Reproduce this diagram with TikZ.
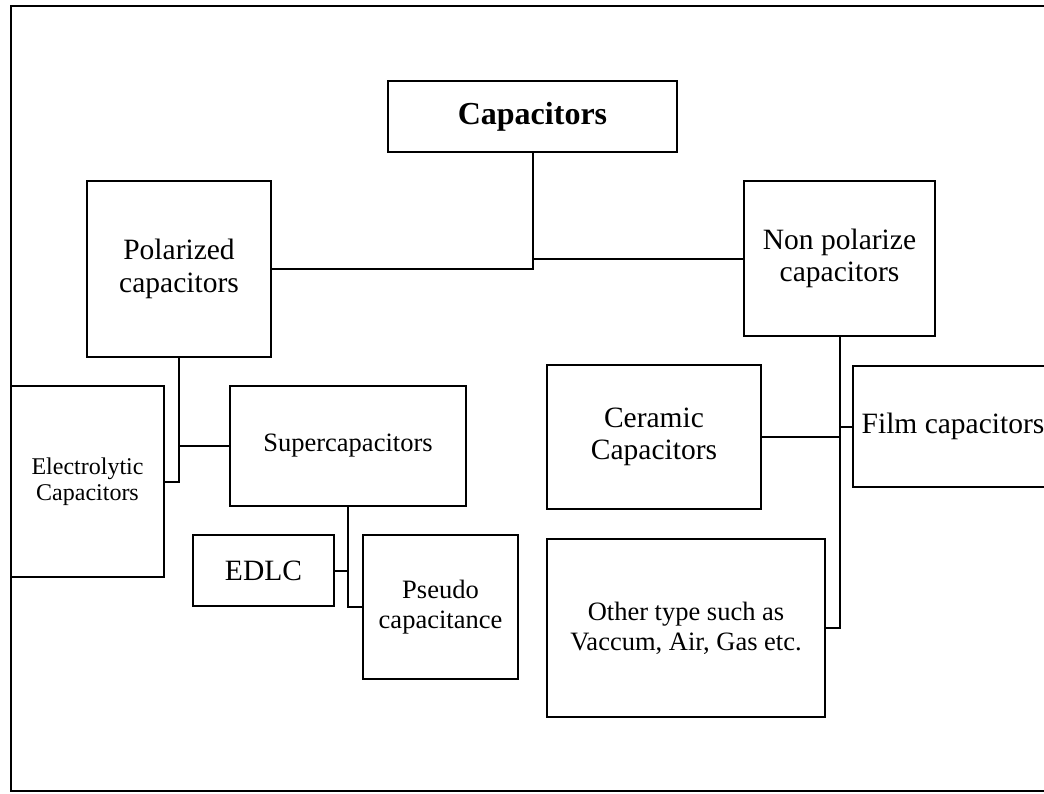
\documentclass[tikz,border=0pt]{standalone}
\usepackage{fontspec}
\setmainfont{Liberation Serif}
\begin{document}
\begin{tikzpicture}[x=1pt,y=-1pt,
  box/.style={draw,line width=2pt,inner sep=0pt,align=center,outer sep=0pt},
  big/.style={font=\fontsize{29.5}{32.5}\selectfont},
  mid/.style={font=\fontsize{26.5}{30}\selectfont},
  small/.style={font=\fontsize{24}{26}\selectfont},
  link/.style={line width=2pt}]
\useasboundingbox (0,0) rectangle (1044,793);
\clip (0,0) rectangle (1044,793);
\draw[line width=2pt] (1060,5.5) -- (11,5.5) -- (11,791) -- (1060,791);
\node[box,font=\bfseries\fontsize{32}{35}\selectfont,minimum width=289,minimum height=71] (cap) at (532.5,116.5) {Capacitors};
\node[box,big,minimum width=184,minimum height=176] (pol) at (179,269) {Polarized\\capacitors};
\node[box,big,minimum width=191,minimum height=155] (np) at (839.5,258.5) {Non polarize\\capacitors};
\node[box,small,minimum width=153,minimum height=191] (elec) at (87.5,481.5) {Electrolytic\\Capacitors};
\node[box,mid,minimum width=236,minimum height=120] (sup) at (348,446) {Supercapacitors};
\node[box,big,minimum width=141,minimum height=71] (edlc) at (263.5,570.5) {EDLC};
\node[box,mid,minimum width=155,minimum height=144] (pse) at (440.5,607) {Pseudo\\capacitance};
\node[box,big,minimum width=214,minimum height=144] (cer) at (654,437) {Ceramic\\Capacitors};
\node[box,big,minimum width=200,minimum height=121] (film) at (953,426.5) {Film capacitors};
\node[box,mid,minimum width=278,minimum height=178] (oth) at (686,628) {Other type such as\\Vaccum, Air, Gas etc.};
\draw[link] (cap.south) |- (pol.east);
\draw[link] (cap.south) |- (np.west);
\draw[link] (pol.south) |- (elec.east);
\draw[link] (pol.south) |- (sup.west);
\draw[link] (sup.south) |- (pse.west);
\draw[link] (edlc.east) -| (sup.south);
\draw[link] (np.south) |- (oth.east);
\draw[link] (cer.east) -| (np.south);
\draw[link] (film.west) -| (np.south);
\end{tikzpicture}
\end{document}
